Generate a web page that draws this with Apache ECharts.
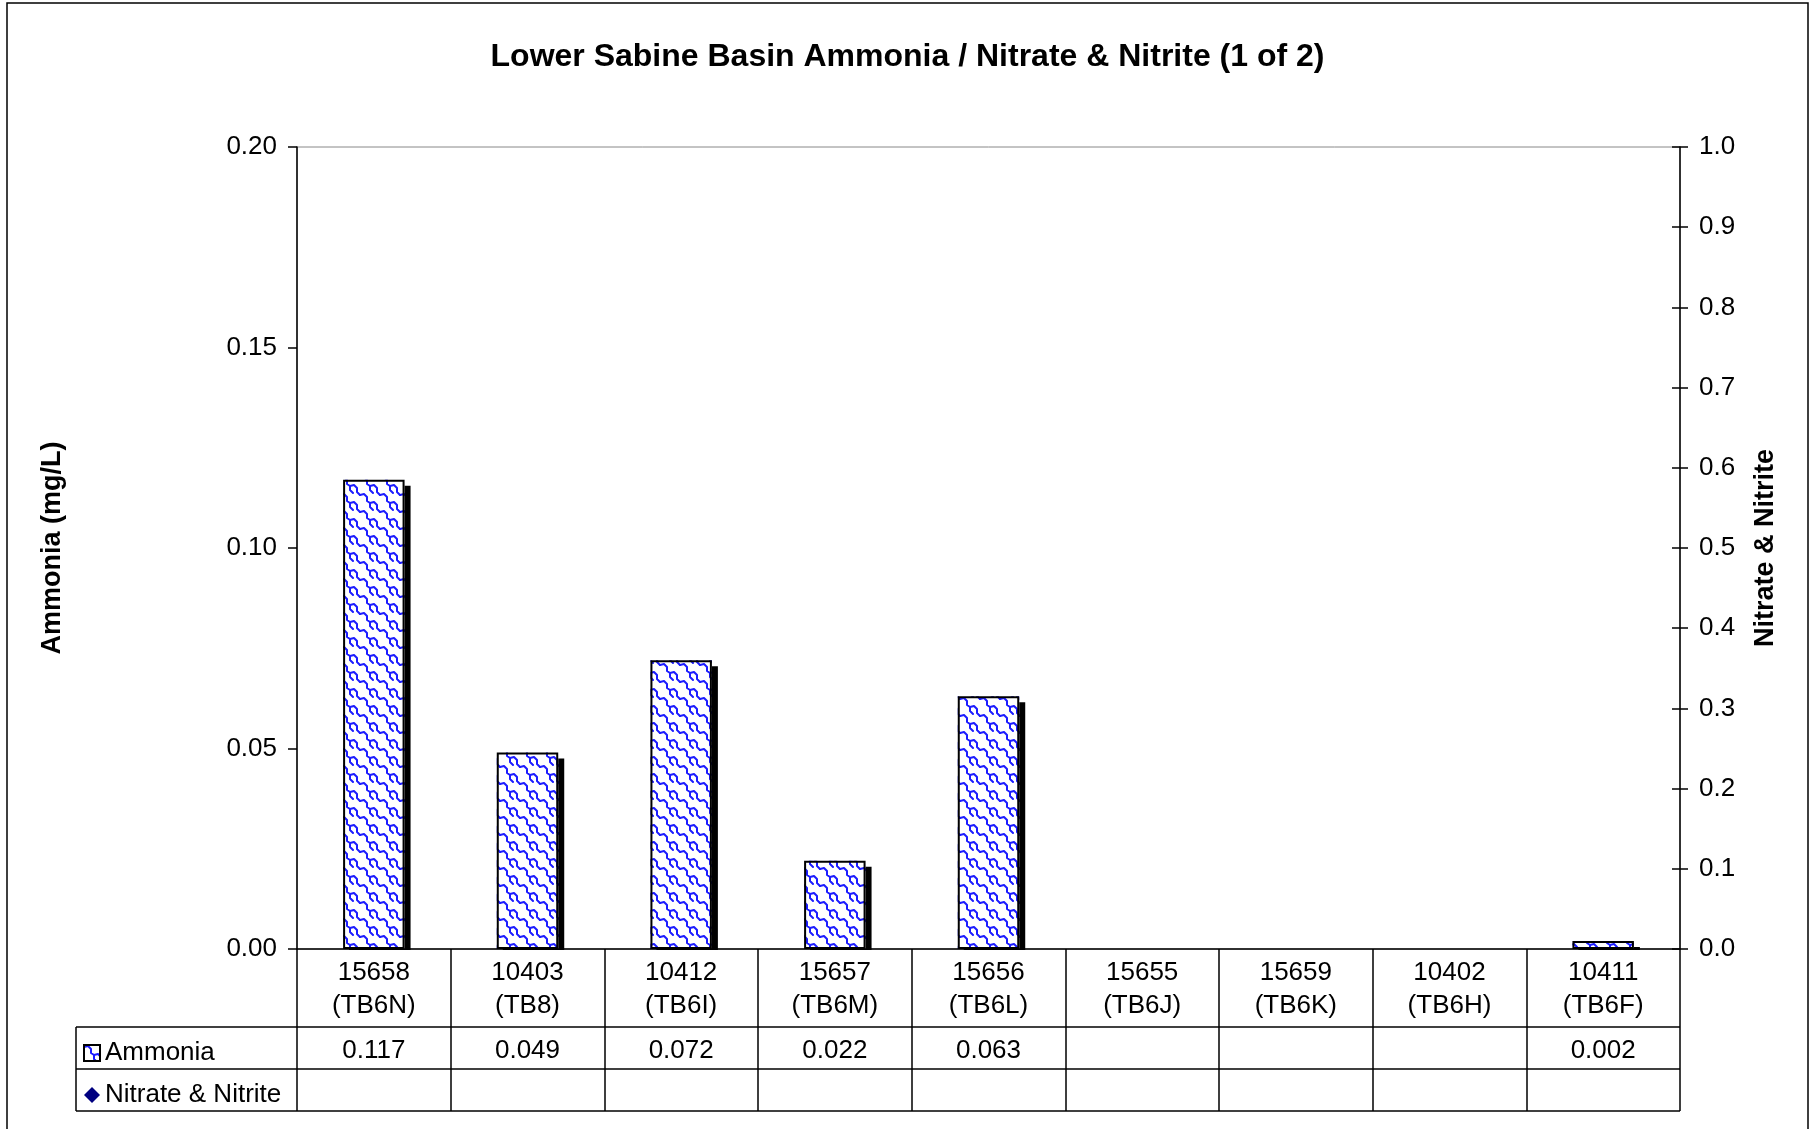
<!DOCTYPE html>
<html>
<head>
<meta charset="utf-8">
<title>Lower Sabine Basin Ammonia / Nitrate & Nitrite (1 of 2)</title>
<script src="https://cdn.jsdelivr.net/npm/echarts@6/dist/echarts.min.js"></script>
<style>
  html, body { margin: 0; padding: 0; background: #fff; }
  #chart { width: 1815px; height: 1129px; }
</style>
</head>
<body>
<div id="chart"></div>
<script>
// stations along the bottom
const categories = ['15658\n(TB6N)', '10403\n(TB8)', '10412\n(TB6I)', '15657\n(TB6M)', '15656\n(TB6L)',
    '15655\n(TB6J)', '15659\n(TB6K)', '10402\n(TB6H)', '10411\n(TB6F)'];
// Ammonia (mg/L), blank = no sample
const ammonia = [0.117, 0.049, 0.072, 0.022, 0.063, null, null, null, 0.002];
// Nitrate & Nitrite - nothing reported on this page
const nitrate = [null, null, null, null, null, null, null, null, null];
const seriesNames = ['Ammonia', 'Nitrate & Nitrite'];

const FONT = '"Liberation Sans", Arial, sans-serif';
const FS = 26;

// blue wavy fill like the excel one
function makePattern() {
    const w = 20, h = 17;
    const c = document.createElement('canvas');
    c.width = w;
    c.height = h;
    const ctx = c.getContext('2d');
    ctx.fillStyle = '#fff';
    ctx.fillRect(0, 0, w, h);
    ctx.strokeStyle = '#1c1cff';
    ctx.lineWidth = 2;
    ctx.lineJoin = 'round';
    ctx.lineCap = 'round';
    for (let dx = -w; dx <= w; dx += w) {
        for (let dy = -h; dy <= h; dy += h) {
            ctx.beginPath();
            ctx.moveTo(dx + 0, dy + 2);
            ctx.lineTo(dx + 4, dy + 1);
            ctx.lineTo(dx + 7, dy + 4);
            ctx.lineTo(dx + 7, dy + 8);
            ctx.lineTo(dx + 10, dy + 10);
            ctx.lineTo(dx + 14, dy + 9);
            ctx.lineTo(dx + 17, dy + 12);
            ctx.lineTo(dx + 17, dy + 16);
            ctx.lineTo(dx + 20, dy + 19);
            ctx.stroke();
            ctx.beginPath();
            ctx.moveTo(dx + 10, dy + 10);
            ctx.lineTo(dx + 10, dy + 14);
            ctx.lineTo(dx + 13, dy + 17);
            ctx.stroke();
        }
    }
    return { image: c, repeat: 'repeat' };
}
const fill = makePattern();

const chart = echarts.init(document.getElementById('chart'), null, { renderer: 'canvas' });

chart.setOption({
    backgroundColor: '#fff',
    animation: false,
    textStyle: { fontFamily: FONT },
    title: {
        text: 'Lower Sabine Basin Ammonia / Nitrate & Nitrite (1 of 2)',
        left: 'center',
        top: 36,
        textStyle: { fontFamily: FONT, fontSize: 32, fontWeight: 'bold', color: '#000' }
    },
    legend: {
        orient: 'vertical',
        left: 78,
        top: 1035,
        itemGap: 16,
        itemWidth: 16,
        itemHeight: 16,
        selectedMode: false,
        textStyle: { fontFamily: FONT, fontSize: FS, color: '#000', lineHeight: 26 },
        data: [
            {
                name: seriesNames[0], icon: 'rect',
                itemStyle: { color: fill, borderColor: '#000', borderWidth: 2, shadowBlur: 0, shadowOffsetX: 0, shadowOffsetY: 0, shadowColor: 'rgba(0,0,0,0)' }
            },
            { name: seriesNames[1], icon: 'diamond', itemStyle: { color: '#000080' } }
        ]
    },
    grid: {
        left: 297, right: 135, top: 147, bottom: 180,
        show: true, borderColor: '#888', borderWidth: 1, backgroundColor: 'transparent'
    },
    xAxis: {
        type: 'category',
        data: categories,
        z: 10,
        axisLine: { lineStyle: { color: '#000', width: 1.5 } },
        axisTick: { show: true, inside: false, length: 162, lineStyle: { color: '#000', width: 1.5 } },
        axisLabel: {
            margin: 7, fontFamily: FONT, fontSize: FS, color: '#000', lineHeight: 33, interval: 0
        }
    },
    yAxis: [
        {
            type: 'value', min: 0, max: 0.2, interval: 0.05, position: 'left',
            name: 'Ammonia (mg/L)', nameLocation: 'middle', nameGap: 231, nameRotate: 90,
            nameTextStyle: { fontFamily: FONT, fontSize: 27, fontWeight: 'bold', color: '#000' },
            axisLine: { show: true, lineStyle: { color: '#000', width: 1.5 } },
            axisTick: { show: true, length: 9, lineStyle: { color: '#000', width: 1.5 } },
            axisLabel: { margin: 20, fontFamily: FONT, fontSize: FS, color: '#000', formatter: v => v.toFixed(2) },
            splitLine: { show: false }
        },
        {
            type: 'value', min: 0, max: 1, interval: 0.1, position: 'right',
            name: 'Nitrate & Nitrite', nameLocation: 'middle', nameGap: 72, nameRotate: 90,
            nameTextStyle: { fontFamily: FONT, fontSize: 27, fontWeight: 'bold', color: '#000' },
            axisLine: { show: true, lineStyle: { color: '#000', width: 1.5 } },
            axisTick: { show: true, length: 8, lineStyle: { color: '#000', width: 1.5 } },
            axisLabel: { margin: 19, fontFamily: FONT, fontSize: FS, color: '#000', formatter: v => v.toFixed(1) },
            splitLine: { show: false }
        },
        {
            // inner half of the crossing ticks on the right axis
            type: 'value', min: 0, max: 1, interval: 0.1, position: 'right',
            axisLine: { show: false },
            axisTick: { show: true, inside: true, length: 8, lineStyle: { color: '#000', width: 1.5 } },
            axisLabel: { show: false },
            splitLine: { show: false }
        }
    ],
    series: [
        {
            // pattern fill + drop shadow
            name: seriesNames[0],
            type: 'bar',
            data: ammonia,
            barWidth: '40%',
            barGap: '-100%',
            itemStyle: {
                color: fill,
                borderWidth: 0,
                shadowColor: '#000',
                shadowBlur: 0,
                shadowOffsetX: 6,
                shadowOffsetY: 6
            }
        },
        {
            // black outline on top, no shadow
            name: 'outline',
            type: 'bar',
            data: ammonia,
            barWidth: '40%',
            barGap: '-100%',
            itemStyle: { color: 'rgba(0,0,0,0)', borderColor: '#000', borderWidth: 2 },
            emphasis: { disabled: true }
        },
        {
            name: seriesNames[1],
            type: 'line',
            yAxisIndex: 1,
            data: nitrate,
            symbol: 'diamond',
            symbolSize: 12,
            itemStyle: { color: '#000080' },
            lineStyle: { width: 0 }
        }
    ]
});

// data table under the chart, laid out from the grid
function drawTable() {
    const y0 = chart.convertToPixel({ yAxisIndex: 0 }, 0);
    const step = chart.convertToPixel({ xAxisIndex: 0 }, 1) - chart.convertToPixel({ xAxisIndex: 0 }, 0);
    const xLeft = chart.convertToPixel({ xAxisIndex: 0 }, 0) - step / 2;
    const xRight = xLeft + step * categories.length;
    const tableLeft = 76;
    const rowTop = y0 + 78;
    const rowH = 42;
    const lineStyle = { stroke: '#000', lineWidth: 1.5 };
    const els = [];

    // hide the bar shadow that falls under the axis
    els.push({ type: 'rect', z: 5, shape: { x: xLeft + 1, y: y0 + 1, width: xRight - xLeft - 2, height: 8 }, style: { fill: '#fff' } });

    els.push({ type: 'rect', z: 5, shape: { x: 7, y: 3, width: 1801, height: 1140 }, style: { fill: 'none', stroke: '#000', lineWidth: 1.5 } });

    for (let r = 0; r <= 2; r++) {
        const y = rowTop + r * rowH;
        els.push({ type: 'line', z: 11, shape: { x1: tableLeft, y1: y, x2: xRight, y2: y }, style: lineStyle });
    }
    els.push({ type: 'line', z: 11, shape: { x1: tableLeft, y1: rowTop, x2: tableLeft, y2: rowTop + 2 * rowH }, style: lineStyle });

    ammonia.forEach((v, i) => {
        if (v == null) return;
        els.push({
            type: 'text', z: 11,
            x: chart.convertToPixel({ xAxisIndex: 0 }, i),
            y: rowTop + rowH / 2 + 3,
            style: { text: v.toFixed(3), font: FS + 'px ' + FONT, fill: '#000', align: 'center', verticalAlign: 'middle' }
        });
    });
    nitrate.forEach((v, i) => {
        if (v == null) return;
        els.push({
            type: 'text', z: 11,
            x: chart.convertToPixel({ xAxisIndex: 0 }, i),
            y: rowTop + rowH * 1.5 + 3,
            style: { text: v.toFixed(2), font: FS + 'px ' + FONT, fill: '#000', align: 'center', verticalAlign: 'middle' }
        });
    });

    chart.setOption({ graphic: { elements: els } });
}
drawTable();
</script>
</body>
</html>
